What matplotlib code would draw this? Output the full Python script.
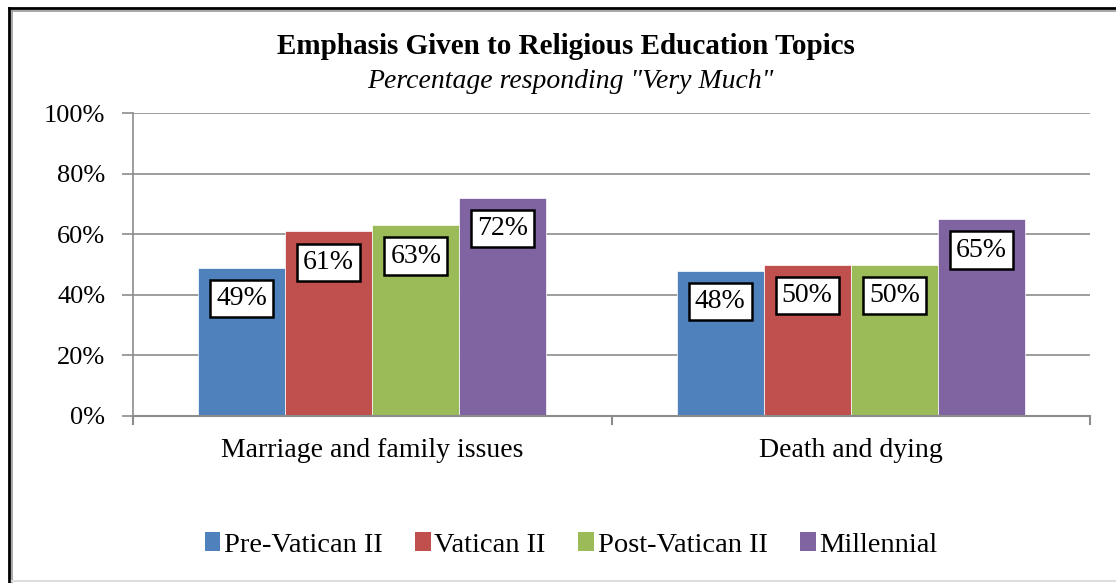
import numpy as np
import matplotlib.pyplot as plt
from matplotlib.lines import Line2D
from matplotlib.patches import Patch

categories = ['Marriage and family issues', 'Death and dying']
series = ['Pre-Vatican II', 'Vatican II', 'Post-Vatican II', 'Millennial']
values = [
    [49, 48],   # Pre-Vatican II
    [61, 50],   # Vatican II
    [63, 50],   # Post-Vatican II
    [72, 65],   # Millennial
]
colors = ['#4f81bd', '#c0504d', '#9bbb59', '#8064a2']

plt.rcParams['font.family'] = ['Liberation Serif', 'DejaVu Serif']

W, H = 1116, 583
fig = plt.figure(figsize=(W / 100, H / 100), dpi=100)
ax = fig.add_axes([133 / W, 1 - 416 / H, (1090 - 133) / W, (416 - 113) / H])

x = np.arange(len(categories))
bw = 0.182
for i, (name, vals) in enumerate(zip(series, values)):
    pos = x + (i - 1.5) * bw
    ax.bar(pos, vals, bw, color=colors[i], edgecolor='white', linewidth=0.5, zorder=2, label=name)
    for px, v in zip(pos, vals):
        ax.annotate(f'{v}%', (px, v), xytext=(0, -31), textcoords='offset pixels',
                    ha='center', va='center', fontsize=20, zorder=4,
                    bbox=dict(boxstyle='square,pad=0.22', fc='white', ec='black', lw=1.8))

ax.set_xlim(-0.5, 1.5)
ax.set_ylim(0, 100)
ax.set_yticks(range(0, 101, 20))
ax.set_yticklabels([f'{t}%' for t in range(0, 101, 20)], fontsize=19)
ax.yaxis.grid(True, color='#8c8c8c', lw=1.2, zorder=0)
ax.set_axisbelow(True)
ax.set_xticks(x)
ax.set_xticklabels(categories, fontsize=20)
ax.tick_params(axis='x', length=0, pad=16)
ax.tick_params(axis='y', length=8, color='#8c8c8c', width=1.2, pad=12)
# category boundary ticks on the x axis
for b in [-0.5, 0.5, 1.5]:
    ax.plot([b, b], [0, -2.6], color='#8c8c8c', lw=1.5, clip_on=False)
for s in ['top', 'right']:
    ax.spines[s].set_visible(False)
ax.spines['left'].set_color('#8c8c8c')
ax.spines['left'].set_linewidth(1.2)
ax.spines['bottom'].set_color('#8c8c8c')
ax.spines['bottom'].set_linewidth(1.5)

fig.text(566 / W, 1 - 47 / H, 'Emphasis Given to Religious Education Topics',
         ha='center', va='center', fontsize=21, fontweight='bold')
fig.text(570 / W, 1 - 82 / H, 'Percentage responding "Very Much"',
         ha='center', va='center', fontsize=20, style='italic')

handles = [Patch(facecolor=c, edgecolor='none') for c in colors]
fig.legend(handles, series, loc='center', bbox_to_anchor=(571 / W, 1 - 545 / H),
           ncol=4, frameon=False, fontsize=20.5, handlelength=0.55, handleheight=0.65,
           handletextpad=0.12, columnspacing=1.15)

# chart border
fig.add_artist(Line2D([9 / W, 9 / W], [1 - 8 / H, 0], transform=fig.transFigure, color='black', lw=2))
fig.add_artist(Line2D([9 / W, 1], [1 - 8 / H, 1 - 8 / H], transform=fig.transFigure, color='black', lw=2))
fig.add_artist(Line2D([11.5 / W, 11.5 / W], [1 - 10.5 / H, 0], transform=fig.transFigure, color='#999999', lw=1.2))
fig.add_artist(Line2D([11.5 / W, 1], [1 - 10.5 / H, 1 - 10.5 / H], transform=fig.transFigure, color='#999999', lw=1.2))
fig.add_artist(Line2D([11.5 / W, 1], [1 - 580.5 / H, 1 - 580.5 / H], transform=fig.transFigure, color='#dddddd', lw=1.5))

fig.savefig('out.png', dpi=100)
